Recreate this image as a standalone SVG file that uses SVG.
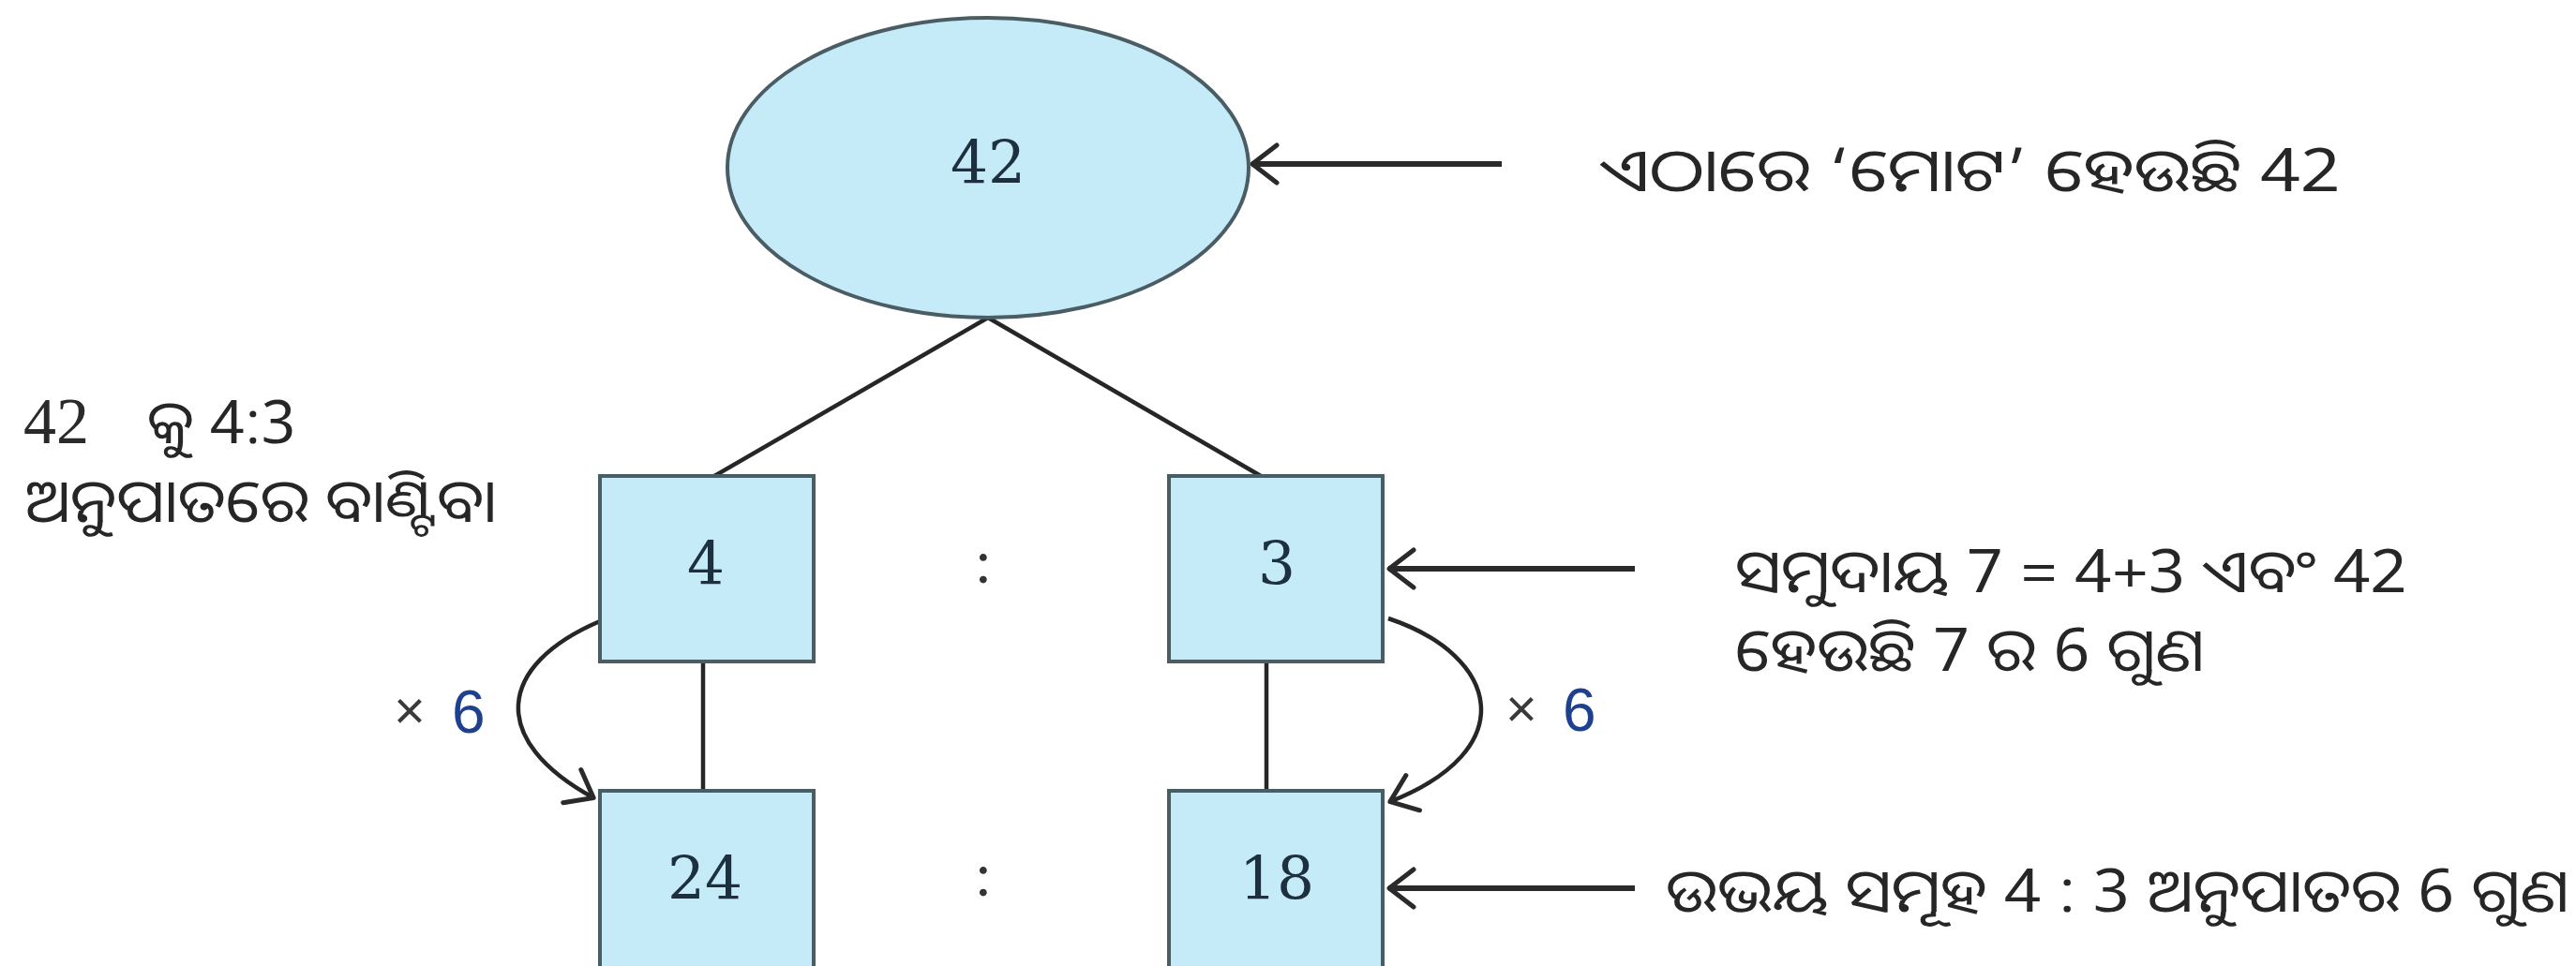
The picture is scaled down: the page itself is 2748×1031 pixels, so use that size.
<svg xmlns="http://www.w3.org/2000/svg" width="2748" height="1031" viewBox="0 0 2748 1031">
<defs>
<style>
.node{fill:#c5ebf9;stroke:#4b5d64;stroke-width:4}
.num{font-family:"DejaVu Serif","Liberation Serif",serif;font-size:63px;fill:#1c3040;text-anchor:middle}
.colon{font-family:"Liberation Serif","Times New Roman",serif;font-size:66px;fill:#333333;text-anchor:middle}
.lnum{font-family:"Liberation Serif","Times New Roman",serif;font-size:70px;fill:#2a2a2a}
.conn{fill:none;stroke:#262626;stroke-width:4.5}
.arr{fill:none;stroke:#2a2a2a;stroke-width:6}
.lbl{font-family:"Noto Sans Oriya","Lohit Odia","Noto Sans","Liberation Sans",sans-serif;font-size:64px;fill:#262626}
.mul{font-family:"Liberation Sans",Arial,sans-serif;font-size:58px;fill:#3a3a3a}
.six{font-family:"Liberation Sans",Arial,sans-serif;font-size:64px;fill:#1f3f8f}
</style>
<marker id="head" markerUnits="userSpaceOnUse" viewBox="0 0 32 46" refX="30" refY="23" markerWidth="32" markerHeight="46" orient="auto">
<path d="M3 3 L29 23 L3 43" fill="none" stroke="#2a2a2a" stroke-width="5" stroke-linecap="round" stroke-linejoin="round"/>
</marker>
</defs>
<rect width="2748" height="1031" fill="#ffffff"/>

<g id="connectors">
<line class="conn" x1="1054" y1="339" x2="762" y2="508"/>
<line class="conn" x1="1054" y1="339" x2="1345" y2="508"/>
<line class="conn" x1="750" y1="706" x2="750" y2="844"/>
<line class="conn" x1="1351" y1="706" x2="1351" y2="844"/>
<path class="conn" d="M640 663 C530 710 520 790 634 852" marker-end="url(#head)"/>
<path class="conn" d="M1481 660 C1600 700 1625 800 1482 856" marker-end="url(#head)"/>
<line class="arr" x1="1602" y1="175" x2="1335" y2="175" marker-end="url(#head)"/>
<line class="arr" x1="1744" y1="607" x2="1481" y2="607" marker-end="url(#head)"/>
<line class="arr" x1="1744" y1="948" x2="1481" y2="948" marker-end="url(#head)"/>
</g>

<g id="node-42">
<ellipse class="node" cx="1054" cy="179" rx="278" ry="160" stroke-width="3"/>
<text class="num" x="1054" y="196" font-size="64">42</text>
</g>
<g id="node-4">
<rect class="node" x="640" y="508" width="228" height="198"/>
<text class="num" x="753" y="624">4</text>
</g>
<g id="node-3">
<rect class="node" x="1247" y="508" width="228" height="198"/>
<text class="num" x="1362" y="624">3</text>
</g>
<g id="node-24">
<rect class="node" x="640" y="844" width="228" height="200"/>
<text class="num" x="752" y="960">24</text>
</g>
<g id="node-18">
<rect class="node" x="1247" y="844" width="228" height="200"/>
<text class="num" x="1362" y="960">18</text>
</g>

<g id="labels">
<text class="colon" x="1049" y="622">:</text>
<text class="colon" x="1049" y="956">:</text>
<text class="mul" x="420" y="778">×</text>
<text class="six" x="482" y="782">6</text>
<text class="mul" x="1606" y="776">×</text>
<text class="six" x="1667" y="780">6</text>
<text class="lbl" x="1707" y="204" textLength="790" lengthAdjust="spacingAndGlyphs">ଏଠାରେ ‘ମୋଟ’ ହେଉଛି 42</text>
<text class="lbl" x="1851" y="632" textLength="717" lengthAdjust="spacingAndGlyphs">ସମୁଦାୟ 7 = 4+3 ଏବଂ 42</text>
<text class="lbl" x="1851" y="716" textLength="501" lengthAdjust="spacingAndGlyphs">ହେଉଛି 7 ର 6 ଗୁଣ</text>
<text class="lbl" x="1777" y="973" textLength="964" lengthAdjust="spacingAndGlyphs">ଉଭୟ ସମୂହ 4 : 3 ଅନୁପାତର 6 ଗୁଣ</text>
<text class="lnum" x="25" y="473">42</text>
<text class="lbl" x="157" y="473" textLength="159" lengthAdjust="spacingAndGlyphs">କୁ 4:3</text>
<text class="lbl" x="27" y="557" textLength="503" lengthAdjust="spacingAndGlyphs">ଅନୁପାତରେ ବାଣ୍ଟିବା</text>
</g>
</svg>
